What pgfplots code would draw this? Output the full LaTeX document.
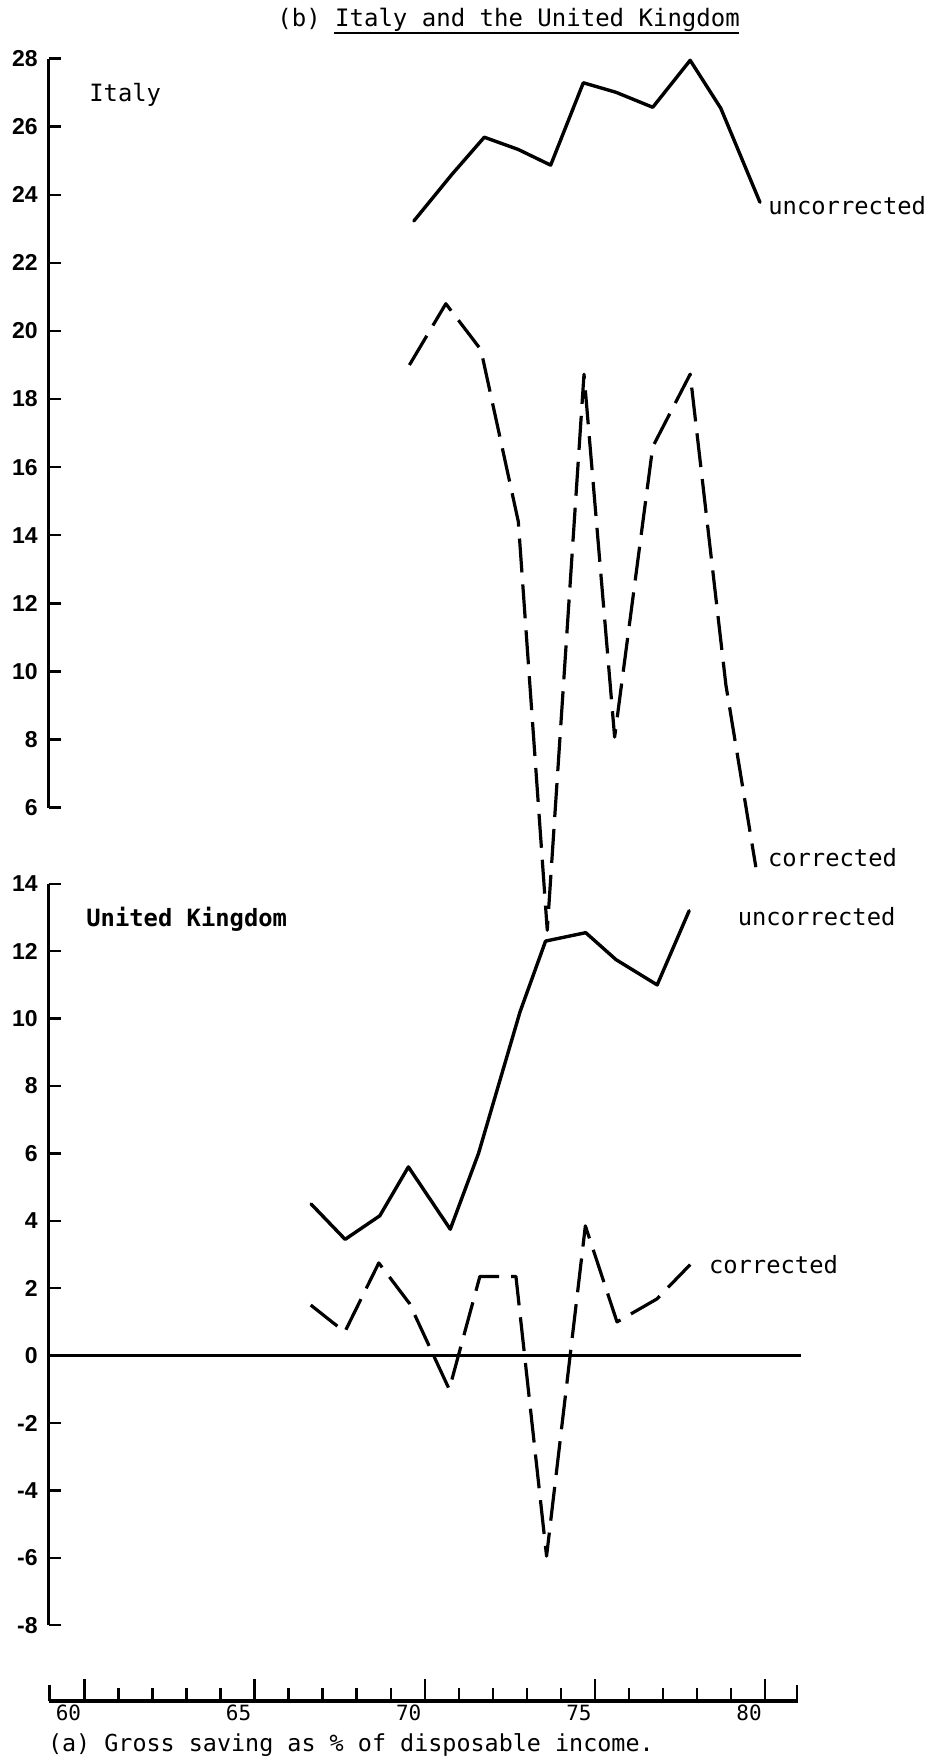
\documentclass[border=0pt]{standalone}
\usepackage{pgfplots}
\pgfplotsset{compat=1.18}
\usepackage{fontspec}
\setmainfont{DejaVu Sans Mono}
\newfontfamily\tickf{Liberation Sans}

\pgfplotstableread{
x y
69.68 23.23
70.80 24.60
71.75 25.69
72.75 25.33
73.70 24.87
74.66 27.29
75.62 27.01
76.70 26.57
77.80 27.95
78.70 26.54
79.85 23.78
}\itunc
\pgfplotstableread{
x y
69.55 19.00
70.62 20.80
71.65 19.45
72.75 14.40
73.60 2.40
74.68 18.73
75.58 8.07
76.70 16.60
77.80 18.73
78.85 9.60
79.73 4.25
}\itcor
\pgfplotstableread{
x y
66.66 4.50
67.66 3.45
68.68 4.15
69.52 5.60
70.75 3.75
71.58 6.00
72.80 10.20
73.55 12.30
74.73 12.55
75.62 11.75
76.83 11.00
77.77 13.20
}\ukunc
\pgfplotstableread{
x y
66.65 1.50
67.65 0.70
68.65 2.75
69.55 1.55
70.72 -1.00
71.62 2.35
72.68 2.35
73.58 -5.95
74.72 3.85
75.65 1.00
76.82 1.68
77.80 2.70
}\ukcor

\begin{document}
\begin{tikzpicture}
\useasboundingbox (0,0) rectangle (464pt,-882pt);
\pgfplotsset{
  base/.style={
    scale only axis, width=374.5pt,
    xmin=58.95, xmax=80.96,
    clip=false,
  },
  look/.style={
    axis line style={-, line width=1.4pt, black},
    tick style={line width=1.2pt, black},
    tick align=inside,
    major tick length=6pt,
  },
  ybase/.style={
    base, axis y line=left, axis x line=none, xtick=\empty, look,
    yticklabel style={font=\tickf\bfseries\fontsize{11.5}{13}\selectfont, xshift=-2pt},
  },
  sol/.style={black, line width=1.7pt, line join=round, line cap=round},
  dsh/.style={black, line width=1.6pt, dash pattern=on 17pt off 6pt, line join=round},
}

% Italy
\begin{axis}[ybase, at={(24.35pt,-403.8pt)}, anchor=south west, height=374.5pt,
  ymin=6, ymax=28,
  ytick={6,8,10,12,14,16,18,20,22,24,26,28},
  yticklabels={6,8,10,12,14,16,18,20,22,24,26,28}]
\addplot[sol] table[x=x,y=y] {\itunc};
\addplot[dsh] table[x=x,y=y] {\itcor};
\end{axis}

% United Kingdom
\begin{axis}[ybase, at={(24.35pt,-812.6pt)}, anchor=south west, height=370.7pt,
  ymin=-8, ymax=14,
  ytick={-8,-6,-4,-2,0,2,4,6,8,10,12,14},
  yticklabels={-8,-6,-4,-2,0,2,4,6,8,10,12,14}]
\addplot[black, line width=1.3pt, forget plot] coordinates {(58.95,0) (81.05,0)};
\addplot[sol] table[x=x,y=y] {\ukunc};
\addplot[dsh] table[x=x,y=y] {\ukcor};
\end{axis}

% time axis
\begin{axis}[base, at={(24.35pt,-850.35pt)}, anchor=south west, height=20pt,
  ymin=0, ymax=1, axis x line=bottom, axis y line=none, ytick=\empty,
  look,
  axis line style={-, line width=2pt, black},
  xtick={60,65,70,75,80}, xticklabels={60,65,70,75,80},
  minor xtick={61,62,63,64,66,67,68,69,71,72,73,74,76,77,78,79},
  major tick length=11pt, minor tick length=6.5pt,
  extra x ticks={58.97,80.94}, extra x tick labels={},
  extra x tick style={major tick length=8pt, tick align=inside},
  xticklabel style={font=\fontsize{10.5}{12}\selectfont, xshift=-8pt, yshift=1.5pt}]
\addplot[draw=none, forget plot] coordinates {(60,0.5)};
\end{axis}

% texts
\node[anchor=base west, inner sep=0pt, font=\fontsize{12}{14}\selectfont] at (138.5pt,-13.5pt) {(b) Italy and the United Kingdom};
\draw[line width=1.1pt] (167pt,-16.6pt) -- (369.5pt,-16.6pt);
\node[anchor=base west, inner sep=0pt, font=\fontsize{11.9}{14}\selectfont] at (44.5pt,-50.8pt) {Italy};
\node[anchor=base west, inner sep=0pt, font=\fontsize{11.9}{14}\selectfont] at (384pt,-107.5pt) {uncorrected};
\node[anchor=base west, inner sep=0pt, font=\fontsize{11.9}{14}\selectfont] at (383.8pt,-433.3pt) {corrected};
\node[anchor=base west, inner sep=0pt, font=\bfseries\fontsize{11.9}{14}\selectfont] at (43pt,-463pt) {United Kingdom};
\node[anchor=base west, inner sep=0pt, font=\fontsize{11.9}{14}\selectfont] at (368.7pt,-462.5pt) {uncorrected};
\node[anchor=base west, inner sep=0pt, font=\fontsize{11.9}{14}\selectfont] at (354.3pt,-636.6pt) {corrected};
\node[anchor=base west, inner sep=0pt, font=\fontsize{11.7}{14}\selectfont] at (23.8pt,-875.8pt) {(a) Gross saving as \% of disposable income.};
\end{tikzpicture}
\end{document}
